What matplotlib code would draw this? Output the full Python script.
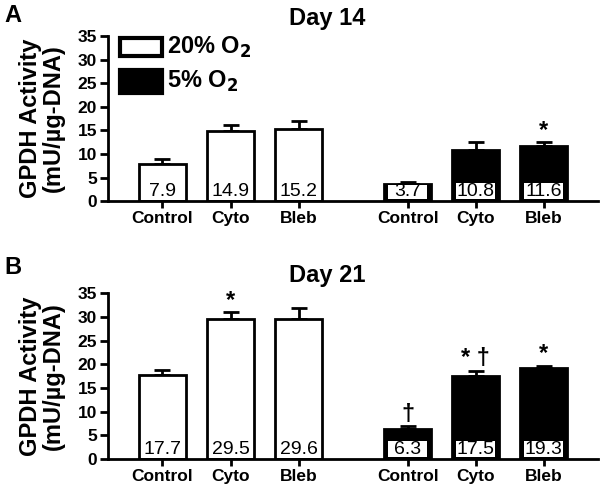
import numpy as np
import matplotlib
matplotlib.use("Agg")
import matplotlib.pyplot as plt
from matplotlib.patches import Rectangle

plt.rcParams['font.family'] = ['Liberation Sans', 'DejaVu Sans']
plt.rcParams['font.weight'] = 'bold'

groups = ["Control", "Cyto", "Bleb"]

# Day 14
d14_20 = [7.9, 14.9, 15.2]
d14_20_err = [1.0, 1.3, 1.8]
d14_5 = [3.7, 10.8, 11.6]
d14_5_err = [0.4, 1.8, 0.9]
d14_marks_20 = ["", "", ""]
d14_marks_5 = ["", "", "*"]

# Day 21
d21_20 = [17.7, 29.5, 29.6]
d21_20_err = [1.1, 1.5, 2.3]
d21_5 = [6.3, 17.5, 19.3]
d21_5_err = [0.6, 1.1, 0.4]
d21_marks_20 = ["", "*", ""]
d21_marks_5 = ["\u2020", "* \u2020", "*"]

x20 = np.array([0, 1, 2])
x5 = np.array([3.6, 4.6, 5.6])
width = 0.69

fig = plt.figure(figsize=(6, 4.86), dpi=100)
axA = fig.add_axes([0.18, 0.586, 0.817, 0.34])
axB = fig.add_axes([0.18, 0.0556, 0.817, 0.341])


def draw(ax, v20, e20, v5, e5, m20, m5, title):
    ax.bar(x20, v20, width, color="white", edgecolor="black", linewidth=2, zorder=2)
    ax.bar(x5, v5, width, color="black", edgecolor="black", linewidth=2, zorder=2)
    xs = np.concatenate([x20, x5])
    vs = list(v20) + list(v5)
    es = list(e20) + list(e5)
    ax.errorbar(xs, vs, yerr=[np.zeros(6), es], fmt="none", ecolor="black",
                elinewidth=2, capsize=6, capthick=2, zorder=1)
    for x, v in zip(xs, vs):
        # white label box, kept below the bar's top edge
        top = min(3.8, v - 0.3)
        ax.add_patch(Rectangle((x - 0.29, 0.4), 0.58, top - 0.4, fc="white",
                               ec="none", zorder=3))
        ax.text(x, 2.05, f"{v}", ha="center", va="center", fontsize=14,
                fontweight="normal", zorder=4)
    for x, v, e, m in zip(xs, vs, es, list(m20) + list(m5)):
        if m:
            ax.text(x, v + e + 0.1, m, ha="center", va="bottom", fontsize=17,
                    fontweight="bold")
    ax.set_xlim(-0.8, 6.4)
    ax.set_ylim(0, 35)
    ax.set_yticks(range(0, 36, 5))
    ax.set_xticks(xs)
    ax.set_xticklabels(groups * 2)
    ax.tick_params(axis="both", labelsize=12.5, width=2, length=6, pad=2)
    ax.tick_params(axis="x", length=5, pad=2)
    for lab in ax.get_xticklabels() + ax.get_yticklabels():
        lab.set_fontweight("bold")
    for s in ["top", "right"]:
        ax.spines[s].set_visible(False)
    for s in ["left", "bottom"]:
        ax.spines[s].set_linewidth(2)
    ax.set_ylabel("GPDH Activity\n(mU/\u00b5g-DNA)", fontsize=17,
                  fontweight="bold", labelpad=9, linespacing=1.0)
    ax.set_title(title, fontsize=17, fontweight="bold", pad=8, x=0.447)


draw(axA, d14_20, d14_20_err, d14_5, d14_5_err, d14_marks_20, d14_marks_5, "Day 14")
draw(axB, d21_20, d21_20_err, d21_5, d21_5_err, d21_marks_20, d21_marks_5, "Day 21")

# legend drawn as boxes in panel A
axA.add_patch(Rectangle((-0.63, 30.8), 0.62, 3.8, fc="white", ec="black", lw=3,
                        clip_on=False))
axA.add_patch(Rectangle((-0.63, 23.0), 0.62, 4.8, fc="black", ec="black", lw=3,
                        clip_on=False))
axA.text(0.06, 32.6, "20% O$_2$", fontsize=17, fontweight="bold", va="center")
axA.text(0.06, 25.4, "5% O$_2$", fontsize=17, fontweight="bold", va="center")

fig.text(0.007, 0.992, "A", fontsize=17, fontweight="bold", va="top")
fig.text(0.007, 0.473, "B", fontsize=17, fontweight="bold", va="top")

fig.savefig("out.png", dpi=100)
